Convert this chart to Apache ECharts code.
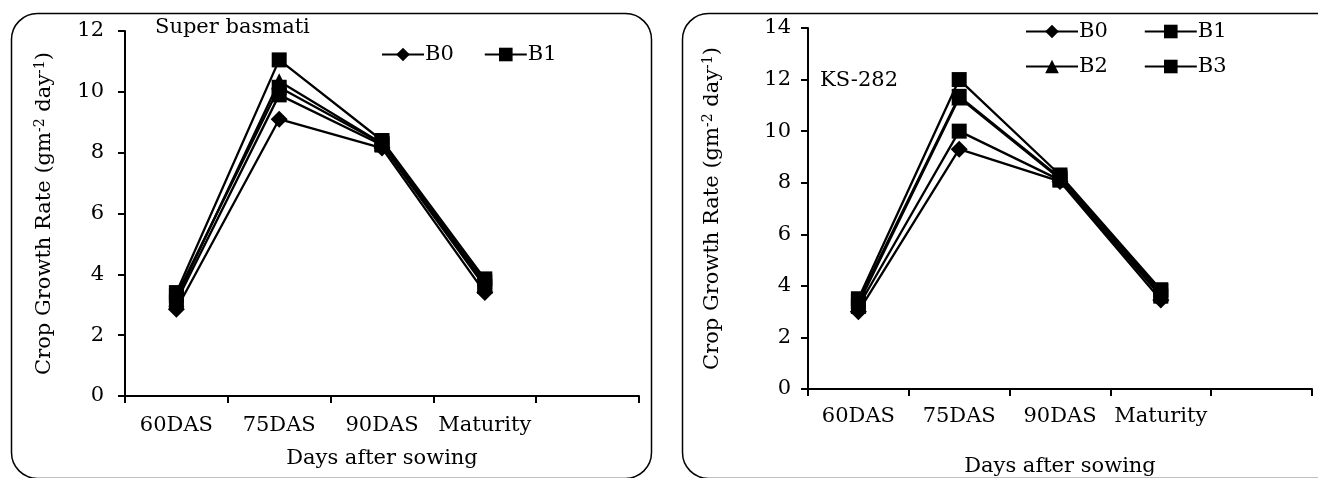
<!DOCTYPE html>
<html>
<head>
<meta charset="utf-8">
<script src="https://cdn.jsdelivr.net/npm/echarts@6/dist/echarts.min.js"></script>
<style>html,body{margin:0;padding:0;background:#fff}#c{width:1318px;height:478px}</style>
</head>
<body>
<div id="c"></div>
<script>
// ---- data ----
const categories = ['60DAS', '75DAS', '90DAS', 'Maturity', ''];
const seriesNames = ['B0', 'B1', 'B2', 'B3', 'B4'];
// Super basmati (left panel)
const sbB0 = [2.85, 9.1, 8.15, 3.4];
const sbB1 = [3.1, 9.9, 8.25, 3.6];
const sbB2 = [3.2, 10.35, 8.3, 3.7];
const sbB3 = [3.3, 10.15, 8.3, 3.75];
const sbB4 = [3.4, 11.05, 8.4, 3.85];
// KS-282 (right panel)
const ksB0 = [3.0, 9.3, 8.05, 3.45];
const ksB1 = [3.2, 10.0, 8.1, 3.6];
const ksB2 = [3.3, 11.3, 8.15, 3.7];
const ksB3 = [3.4, 11.35, 8.2, 3.8];
const ksB4 = [3.5, 12.0, 8.3, 3.85];
const leftYTicks = {min: 0, max: 12, interval: 2};
const rightYTicks = {min: 0, max: 14, interval: 2};
const leftTitle = 'Super basmati';
const rightTitle = 'KS-282';

const FONT = 'DejaVu Serif';
const FS = 21;
const symbols = ['diamond', 'rect', 'triangle', 'rect', 'rect'];
const symSizes = [17, 15, 16, 15, 15];

const chart = echarts.init(document.getElementById('c'));

function mkSeries(arr, idx) {
  return arr.map((d, i) => ({
    name: seriesNames[i], type: 'line', xAxisIndex: idx, yAxisIndex: idx,
    data: d, symbol: symbols[i], symbolSize: symSizes[i],
    lineStyle: {color: '#000', width: 2.3}, itemStyle: {color: '#000'},
    animation: false
  }));
}

const yName = 'Crop Growth Rate (gm{s|-2} day{s|-1})';
function yAxis(idx, t, gap, margin) {
  return {
    gridIndex: idx, type: 'value', min: t.min, max: t.max, interval: t.interval,
    axisLine: {show: true, lineStyle: {color: '#000', width: 2}},
    axisTick: {show: true, length: 7, lineStyle: {color: '#000', width: 2}},
    splitLine: {show: false},
    axisLabel: {color: '#000', fontFamily: FONT, fontSize: FS, margin: margin},
    name: yName, nameLocation: 'middle', nameGap: gap, nameRotate: 90,
    nameTextStyle: {color: '#000', fontFamily: FONT, fontSize: FS,
      rich: {s: {fontFamily: FONT, fontSize: 14, verticalAlign: 'top', color: '#000', padding: [0,0,9,0]}}}
  };
}
function xAxis(idx, gap, margin) {
  return {
    gridIndex: idx, type: 'category', data: categories, boundaryGap: true,
    axisLine: {show: true, onZero: false, lineStyle: {color: '#000', width: 2}},
    axisTick: {show: true, length: 7, alignWithLabel: false, lineStyle: {color: '#000', width: 2}},
    axisLabel: {color: '#000', fontFamily: FONT, fontSize: FS, margin: margin, interval: 0},
    name: 'Days after sowing', nameLocation: 'middle', nameGap: gap,
    nameTextStyle: {color: '#000', fontFamily: FONT, fontSize: FS}
  };
}
const legendCommon = {
  itemWidth: 42, itemHeight: 17, itemGap: 30,
  textStyle: {color: '#000', fontFamily: FONT, fontSize: FS, padding: [0,0,0,-4]}
};

const option = {
  backgroundColor: '#fff',
  animation: false,
  grid: [
    {left: 125, top: 31, width: 514, height: 365, containLabel: false, outerBoundsMode: 'none'},
    {left: 808, top: 28, width: 504, height: 361, containLabel: false, outerBoundsMode: 'none'}
  ],
  xAxis: [xAxis(0, 52, 19), xAxis(1, 67, 17)],
  yAxis: [yAxis(0, leftYTicks, 69, 21), yAxis(1, rightYTicks, 84, 17)],
  legend: [
    Object.assign({}, legendCommon, {data: ['B0', 'B1'], left: 376, top: 39}),
    Object.assign({}, legendCommon, {data: ['B0', 'B1'], left: 1020, top: 16, itemWidth: 52, itemGap: 36}),
    Object.assign({}, legendCommon, {data: ['B2', 'B3'], left: 1020, top: 51, itemWidth: 52, itemGap: 36})
  ],
  series: mkSeries([sbB0, sbB1, sbB2, sbB3, sbB4], 0).concat(mkSeries([ksB0, ksB1, ksB2, ksB3, ksB4], 1)),
  graphic: [
    {type: 'rect', left: 9, top: 11, shape: {x: 0, y: 0, width: 640, height: 465, r: 26}, style: {fill: 'none', stroke: '#000', lineWidth: 1.5}, silent: true, z: -1},
    {type: 'rect', left: 680, top: 11, shape: {x: 0, y: 0, width: 670, height: 465, r: 26}, style: {fill: 'none', stroke: '#000', lineWidth: 1.5}, silent: true, z: -1},
    {type: 'text', left: 155, top: 17, style: {text: leftTitle, fill: '#000', font: FS + 'px "' + FONT + '"'}},
    {type: 'text', left: 820, top: 70, style: {text: rightTitle, fill: '#000', font: FS + 'px "' + FONT + '"'}}
  ]
};
chart.setOption(option);
</script>
</body>
</html>
